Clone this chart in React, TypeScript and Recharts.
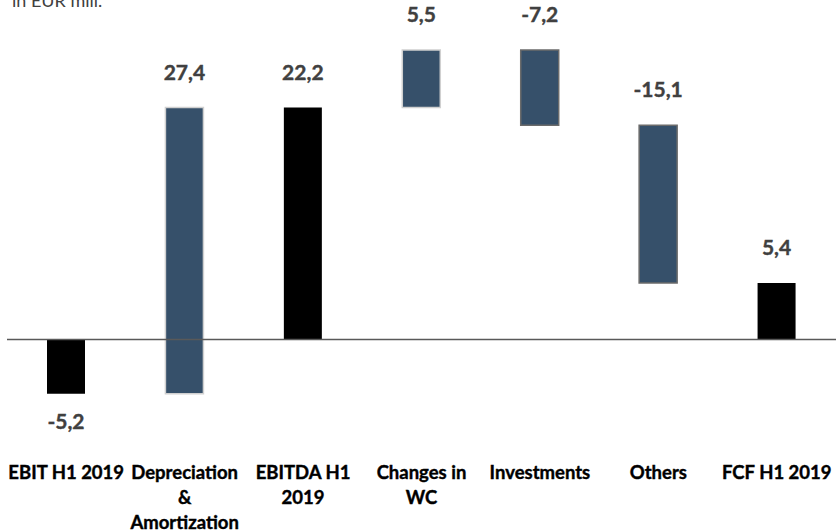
import { BarChart, Bar, XAxis, YAxis, Cell, LabelList, ReferenceLine } from 'recharts';

const categories = [
  'EBIT H1 2019',
  'Depreciation & Amortization',
  'EBITDA H1 2019',
  'Changes in WC',
  'Investments',
  'Others',
  'FCF H1 2019',
];
const tickLines = [
  ['EBIT H1 2019'],
  ['Depreciation', '&', 'Amortization'],
  ['EBITDA H1', '2019'],
  ['Changes in', 'WC'],
  ['Investments'],
  ['Others'],
  ['FCF H1 2019'],
];
const amounts = [-5.2, 27.4, 22.2, 5.5, -7.2, -15.1, 5.4];
const isTotal = [true, false, true, false, false, false, true];

const FONT = 'Lato, "Noto Sans", sans-serif';
const DELTA = '#36506a';

// waterfall: totals start at zero, deltas float from the running total
let running = 0;
const data = categories.map((name, i) => {
  let range: [number, number];
  if (isTotal[i]) {
    range = [Math.min(0, amounts[i]), Math.max(0, amounts[i])];
    running = amounts[i];
  } else {
    const start = running;
    running = start + amounts[i];
    range = [Math.min(start, running), Math.max(start, running)];
  }
  return { name, range, amount: amounts[i], total: isTotal[i] };
});

const fmt = (v: number) => v.toFixed(1).replace('.', ',');

const CategoryTick = (props: any) => {
  const { x, y, index } = props;
  const lines = tickLines[index] || [];
  return (
    <g>
      {lines.map((l, k) => (
        <text
          key={k}
          x={x}
          y={y + 27 + k * 25}
          textAnchor="middle"
          fontFamily={FONT}
          fontWeight={700}
          fontSize={18.5}
          fill="#000"
          stroke="#000"
          strokeWidth={0.4}
        >
          {l}
        </text>
      ))}
    </g>
  );
};

const ValueLabel = (props: any) => {
  const { x, y, width, height, index } = props;
  const v = amounts[index];
  const below = isTotal[index] && v < 0;
  const cx = x + width / 2;
  // height can be negative for bars drawn downwards
  const top = Math.min(y, y + height);
  const bottom = Math.max(y, y + height);
  const ty = below ? bottom + 35 : top - 28;
  return (
    <text
      x={cx}
      y={ty}
      textAnchor="middle"
      fontFamily={FONT}
      fontWeight={700}
      fontSize={21}
      fill="#404040"
      stroke="#404040"
      strokeWidth={0.4}
    >
      {fmt(v)}
    </text>
  );
};

export default function App() {
  return (
    <div style={{ position: 'absolute', left: 0, top: 0, width: 836, height: 532, background: '#fff' }}>
      <svg width={836} height={532} style={{ position: 'absolute', left: 0, top: 0 }}>
        <text x={12} y={7} fontFamily={FONT} fontSize={18} fill="#404040">in EUR mill.</text>
      </svg>
      <div style={{ position: 'absolute', left: 0, top: 0 }}>
        <BarChart
          width={836}
          height={532}
          data={data}
          margin={{ top: 26, right: 0, left: 7, bottom: 0 }}
          barSize={38}
        >
          <XAxis
            dataKey="name"
            axisLine={false}
            tickLine={false}
            interval={0}
            height={88}
            tick={<CategoryTick />}
          />
          <YAxis hide domain={[-10, 30]} />
          <ReferenceLine y={0} stroke="#595959" strokeWidth={1.5} />
          <Bar dataKey="range" isAnimationActive={false}>
            {data.map((d, i) => (
              <Cell
                key={i}
                fill={d.total ? '#000' : DELTA}
                stroke={d.total ? 'none' : i >= 4 ? '#6b6b6b' : '#d0d0d0'}
                strokeWidth={d.total ? 0 : 1.5}
              />
            ))}
            <LabelList dataKey="amount" content={<ValueLabel />} />
          </Bar>
        </BarChart>
      </div>
    </div>
  );
}
